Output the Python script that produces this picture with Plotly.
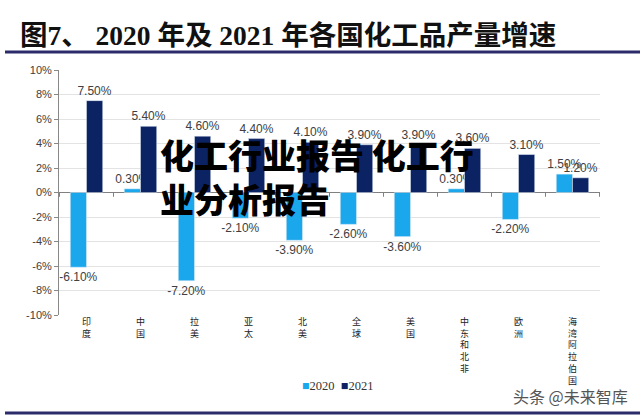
import plotly.graph_objects as go

categories = ["印度", "中国", "拉美", "亚太", "北美", "全球", "美国", "中东和北非", "欧洲", "海湾阿拉伯国"]
growth_2020 = [-6.1, 0.3, -7.2, -2.1, -3.9, -2.6, -3.6, 0.3, -2.2, 1.5]
growth_2021 = [7.5, 5.4, 4.6, 4.4, 4.1, 3.9, 3.9, 3.6, 3.1, 1.2]
series_names = ["2020", "2021"]
series_colors = ["#1AA7EC", "#0B2263"]
y_ticks = [-10, -8, -6, -4, -2, 0, 2, 4, 6, 8, 10]

vertical_labels = ["<br>".join(list(c)) for c in categories]
label_font = dict(family="Arial, Liberation Sans, sans-serif", size=12, color="#404040")

PW, PH, L, T = 541, 245, 59, 70  # plot area in px

def px_x(x):
    return (x - L) / PW

def px_y(y):
    return 1 - (y - T) / PH

fig = go.Figure()
for name, vals, color in zip(series_names, [growth_2020, growth_2021], series_colors):
    fig.add_trace(go.Bar(
        x=categories, y=vals, name=name, marker_color=color,
        text=[f"{v:.2f}%" for v in vals], textposition="outside",
        textfont=label_font, cliponaxis=False, constraintext="none",
        showlegend=False,
    ))

# small tick marks on the zero line between categories
shapes = []
for i in range(len(categories) + 1):
    shapes.append(dict(type="line", xref="x", yref="y", x0=i - 0.5, x1=i - 0.5,
                       y0=0, y1=-0.35, line=dict(color="#808080", width=1)))

fig.update_layout(
    width=640, height=418,
    margin=dict(l=59, r=40, t=70, b=103, autoexpand=False),
    paper_bgcolor="white", plot_bgcolor="white",
    barmode="group", bargap=0.4, bargroupgap=0,
    showlegend=False,
    xaxis=dict(
        tickmode="array", tickvals=categories, ticktext=vertical_labels,
        tickfont=dict(family="Noto Sans CJK SC", size=9, color="#222222"),
        tickangle=0, showgrid=False, showline=False, ticks="",
        zeroline=False, automargin=False,
    ),
    yaxis=dict(
        range=[-10, 10], tickvals=y_ticks, ticktext=[f"{v}%" for v in y_ticks],
        tickfont=dict(family="Arial, Liberation Sans, sans-serif", size=11, color="#404040"),
        showgrid=True, gridcolor="#E3E3E3", gridwidth=1,
        showline=True, linecolor="#888888", linewidth=1,
        ticks="outside", ticklen=4, tickcolor="#888888",
        zeroline=True, zerolinecolor="#808080", zerolinewidth=1, automargin=False,
    ),
    shapes=shapes,
)

# title
fig.add_annotation(
    text="图7、 2020 年及 2021 年各国化工品产量增速",
    xref="paper", yref="paper", x=px_x(18), y=px_y(35),
    xanchor="left", yanchor="middle", showarrow=False,
    font=dict(family="Liberation Serif, Noto Sans CJK SC", size=27.5, color="#111111", weight="bold"),
)
# title underline and bottom rule
for yy in (52, 413):
    fig.add_shape(type="line", xref="paper", yref="paper",
                  x0=px_x(5), x1=px_x(640), y0=px_y(yy), y1=px_y(yy),
                  line=dict(color="#2B2B6B", width=3))

# legend (compact, as in reference)
fig.add_annotation(
    text=(f"<span style='color:{series_colors[0]}'>■</span>{series_names[0]}  "
          f"<span style='color:{series_colors[1]}'>■</span>{series_names[1]}"),
    xref="paper", yref="paper", x=px_x(337), y=px_y(386),
    xanchor="center", yanchor="middle", showarrow=False,
    font=dict(family="Liberation Serif, Times New Roman, serif", size=12.5, color="#333333"),
)

# overlay watermark texts
fig.add_annotation(
    text="化工行业报告 化工行<br>业分析报告",
    xref="paper", yref="paper", x=px_x(158), y=px_y(128),
    xanchor="left", yanchor="top", align="left", showarrow=False,
    font=dict(family="Noto Sans CJK SC", size=34, color="#000000", weight=900),
)
fig.add_annotation(
    text="头条 @未来智库",
    xref="paper", yref="paper", x=px_x(630), y=px_y(396),
    xanchor="right", yanchor="middle", showarrow=False,
    font=dict(family="Noto Sans CJK SC", size=16, color="#555555"),
)

fig.write_html("out.html", config={"displayModeBar": False},
               post_script="document.body.style.margin='0';")
